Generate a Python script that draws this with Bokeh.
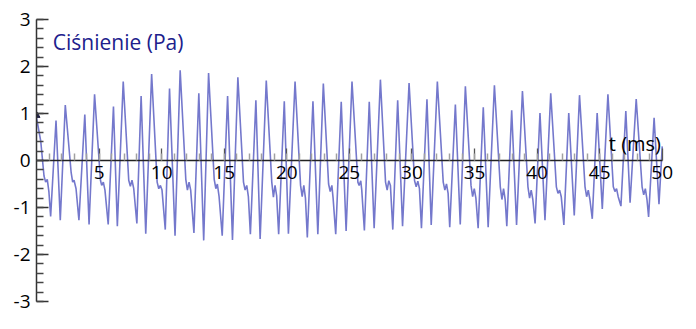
from bokeh.plotting import figure
from bokeh.models import Range1d, LinearAxis, FixedTicker, Label
from bokeh.embed import file_html
from bokeh.resources import INLINE

# time (ms) and pressure (Pa) (extrema and shoulder points)
t_ms = [0.00, 0.34, 0.60, 0.73, 0.86, 0.99, 1.13, 1.56, 1.90, 2.30,
        2.77, 2.89, 3.00, 3.16, 3.39, 3.86, 4.20, 4.64,
        5.11, 5.21, 5.34, 5.47, 5.73, 6.15, 6.46, 6.93,
        7.37, 7.50, 7.63, 7.77, 8.02, 8.36, 8.73, 9.20,
        9.64, 9.77, 9.90, 10.03, 10.29, 10.63, 11.07, 11.48,
        11.93, 12.06, 12.19, 12.32, 12.58, 12.97, 13.36, 13.75,
        14.20, 14.33, 14.45, 14.59, 14.84, 15.27, 15.66, 16.09,
        16.54, 16.67, 16.80, 16.93, 17.09, 17.53, 17.87, 18.36,
        18.80, 18.93, 19.06, 19.19, 19.35, 19.80, 20.13, 20.66,
        21.10, 21.23, 21.36, 21.49, 21.64, 22.09, 22.48, 22.92,
        23.34, 23.47, 23.60, 23.70, 23.91, 24.35, 24.74, 25.21,
        25.68, 25.78, 25.91, 25.99, 26.20, 26.59, 26.98, 27.48,
        27.89, 28.02, 28.15, 28.28, 28.47, 28.86, 29.25, 29.77,
        30.21, 30.34, 30.47, 30.60, 30.76, 31.20, 31.54, 32.03,
        32.50, 32.63, 32.76, 32.89, 33.02, 33.47, 33.86, 34.27,
        34.72, 34.85, 34.98, 35.11, 35.29, 35.70, 36.09, 36.59,
        37.06, 37.19, 37.32, 37.45, 37.58, 37.97, 38.36, 38.83,
        39.27, 39.40, 39.53, 39.66, 39.84, 40.23, 40.63, 41.09,
        41.54, 41.67, 41.80, 41.93, 42.14, 42.53, 42.97, 43.39,
        43.83, 43.96, 44.09, 44.22, 44.41, 44.80, 45.21, 45.66,
        46.09, 46.22, 46.35, 46.48, 46.70, 47.09, 47.43, 47.92,
        48.39, 48.52, 48.65, 48.78, 48.91, 49.35, 49.74, 50.00]
p_pa = [0.91, 0.41, -0.33, -0.46, -0.40, -0.66, -1.19, 0.85, -1.27, 1.18,
        -0.26, -0.46, -0.42, -0.60, -1.27, 0.98, -1.36, 1.41,
        -0.42, -0.53, -0.46, -0.63, -1.36, 1.15, -1.40, 1.68,
        -0.42, -0.55, -0.42, -0.60, -1.34, 1.37, -1.56, 1.84,
        -0.46, -0.60, -0.53, -0.63, -1.47, 1.53, -1.60, 1.92,
        -0.40, -0.63, -0.46, -0.63, -1.54, 1.43, -1.70, 1.86,
        -0.40, -0.60, -0.50, -0.77, -1.60, 1.37, -1.69, 1.77,
        -0.46, -0.63, -0.53, -0.77, -1.57, 1.28, -1.67, 1.70,
        -0.46, -0.78, -0.53, -0.75, -1.57, 1.26, -1.56, 1.68,
        -0.53, -0.77, -0.53, -0.80, -1.64, 1.26, -1.57, 1.64,
        -0.50, -0.66, -0.53, -0.80, -1.57, 1.25, -1.50, 1.68,
        -0.46, -0.53, -0.43, -0.63, -1.49, 1.25, -1.44, 1.72,
        -0.46, -0.63, -0.43, -0.53, -1.47, 1.28, -1.40, 1.65,
        -0.43, -0.56, -0.44, -0.60, -1.44, 1.30, -1.37, 1.68,
        -0.46, -0.63, -0.50, -0.70, -1.42, 1.19, -1.36, 1.58,
        -0.53, -0.77, -0.60, -0.80, -1.44, 1.13, -1.42, 1.60,
        -0.56, -0.83, -0.60, -0.83, -1.40, 1.07, -1.37, 1.48,
        -0.56, -0.80, -0.63, -0.83, -1.34, 1.01, -1.27, 1.43,
        -0.56, -0.70, -0.63, -0.77, -1.37, 1.01, -1.17, 1.39,
        -0.56, -0.77, -0.63, -0.83, -1.24, 1.01, -1.03, 1.41,
        -0.56, -0.66, -0.60, -0.77, -0.97, 1.05, -0.90, 1.31,
        -0.56, -0.73, -0.60, -0.83, -1.20, 0.91, -0.93, 0.30]

y_ticks = [-3, -2, -1, 0, 1, 2, 3]
y_tick_labels = ["-3", "-2", "-1", "0", "1", "2", "3"]
y_minor = [round(-3 + 0.2 * i, 1) for i in range(31)]
x_ticks = [5, 10, 15, 20, 25, 30, 35, 40, 45, 50]
x_minor = [i for i in range(1, 50)]

title_text = "Ciśnienie (Pa)"
xlabel_text = "t (ms)"

FONT = "Open Sans"
W, H = 680, 313

# x range padded past 50 so the "50" tick label is not clipped by the frame;
# the axis line itself is bounded to 0..50
p = figure(width=W, height=H, x_range=Range1d(0, 50.9), y_range=Range1d(-3, 3),
           output_backend="svg", toolbar_location=None,
           x_axis_type=None, y_axis_type=None,
           min_border_left=36, min_border_right=7, min_border_top=19, min_border_bottom=12)
p.outline_line_color = None
p.background_fill_color = "white"
p.border_fill_color = "white"

yaxis = LinearAxis(ticker=FixedTicker(ticks=y_ticks, minor_ticks=y_minor))
yaxis.major_label_overrides = {k: v for k, v in zip(y_ticks, y_tick_labels)}
yaxis.axis_line_color = "#333333"
yaxis.axis_line_width = 1.5
yaxis.major_tick_in = 12
yaxis.major_tick_out = 0
yaxis.minor_tick_in = 7
yaxis.minor_tick_out = 0
yaxis.major_tick_line_color = "#333333"
yaxis.minor_tick_line_color = "#444444"
yaxis.major_tick_line_width = 1.3
yaxis.minor_tick_line_width = 1.3
yaxis.major_label_text_font = FONT
yaxis.major_label_text_font_size = "19px"
yaxis.major_label_text_color = "black"
yaxis.major_label_standoff = 6
p.add_layout(yaxis, "left")

xaxis = LinearAxis(ticker=FixedTicker(ticks=x_ticks, minor_ticks=x_minor), fixed_location=0,
                   bounds=(0, 50))
xaxis.axis_line_color = "#222222"
xaxis.axis_line_width = 1.5
xaxis.major_tick_in = 12
xaxis.major_tick_out = 0
xaxis.minor_tick_in = 7
xaxis.minor_tick_out = 0
xaxis.major_tick_line_color = "#555555"
xaxis.minor_tick_line_color = "#a0a0a0"
xaxis.major_tick_line_width = 1.3
xaxis.minor_tick_line_width = 1.5
xaxis.major_label_text_font = FONT
xaxis.major_label_text_font_size = "19px"
xaxis.major_label_text_color = "black"
xaxis.major_label_standoff = 5
p.add_layout(xaxis, "below")

p.line(t_ms, p_pa, line_color="#7478cc", line_width=1.6)
p.scatter([t_ms[0]], [p_pa[0] + 0.05], marker="triangle", size=7, color="#222244")

p.add_layout(Label(x=1.3, y=2.52, text=title_text,
                   text_font=FONT, text_font_size="21px", text_color="#20208c",
                   text_baseline="alphabetic", text_align="left"))
p.add_layout(Label(x=49.9, y=0.37, text=xlabel_text,
                   text_font=FONT, text_font_size="20px", text_color="black",
                   text_baseline="alphabetic", text_align="right"))

open("out.html", "w").write(file_html(p, INLINE))
